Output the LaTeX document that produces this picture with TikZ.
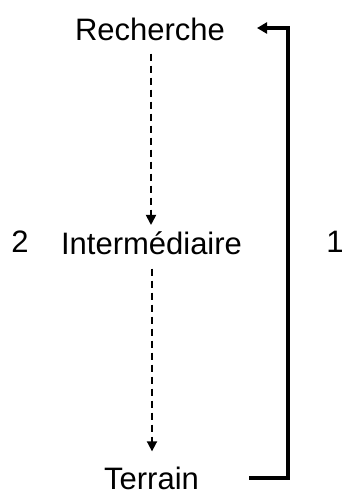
\documentclass[tikz,border=0pt]{standalone}
\usepackage{fontspec}
\setmainfont{Liberation Sans}
\usetikzlibrary{arrows.meta}

\begin{document}
\begin{tikzpicture}[x=1pt,y=-1pt]
		\tikzstyle{every node}=[font=\fontsize{31}{37}\selectfont,inner sep=0pt]
		\tikzstyle{level}=[anchor=base]
		\tikzstyle{flow}=[line width=1.8pt,dash pattern=on 7pt off 5pt,-{Triangle[length=10pt,width=10pt]}]
		\tikzstyle{back}=[line width=3.5pt,-{Triangle[length=10pt,width=11pt]}]
		
		\useasboundingbox (0,0) rectangle (341,490);
		
		\node[level] (rech) at (150,40) {Recherche};
		\node[level] (inter) at (151.5,254) {Intermédiaire};
		\node[level] (terr) at (151.5,489) {Terrain};
		\node[level] (two) at (20,252) {2};
		\node[level] (one) at (335,252) {1};
		
		\coordinate (bot) at (249,478);
		\coordinate (top) at (257,28);
		
		\draw[flow,shorten <=13pt,shorten >=6pt] (rech.south -| 151,0) -- (inter.north -| 151,0);
		\draw[flow,shorten <=14pt,shorten >=15pt] (inter.south -| 152,0) -- (terr.north -| 152,0);
		
		\draw[back] (bot) -- ++(39,0) |- (top);
		
	\end{tikzpicture}
\end{document}
